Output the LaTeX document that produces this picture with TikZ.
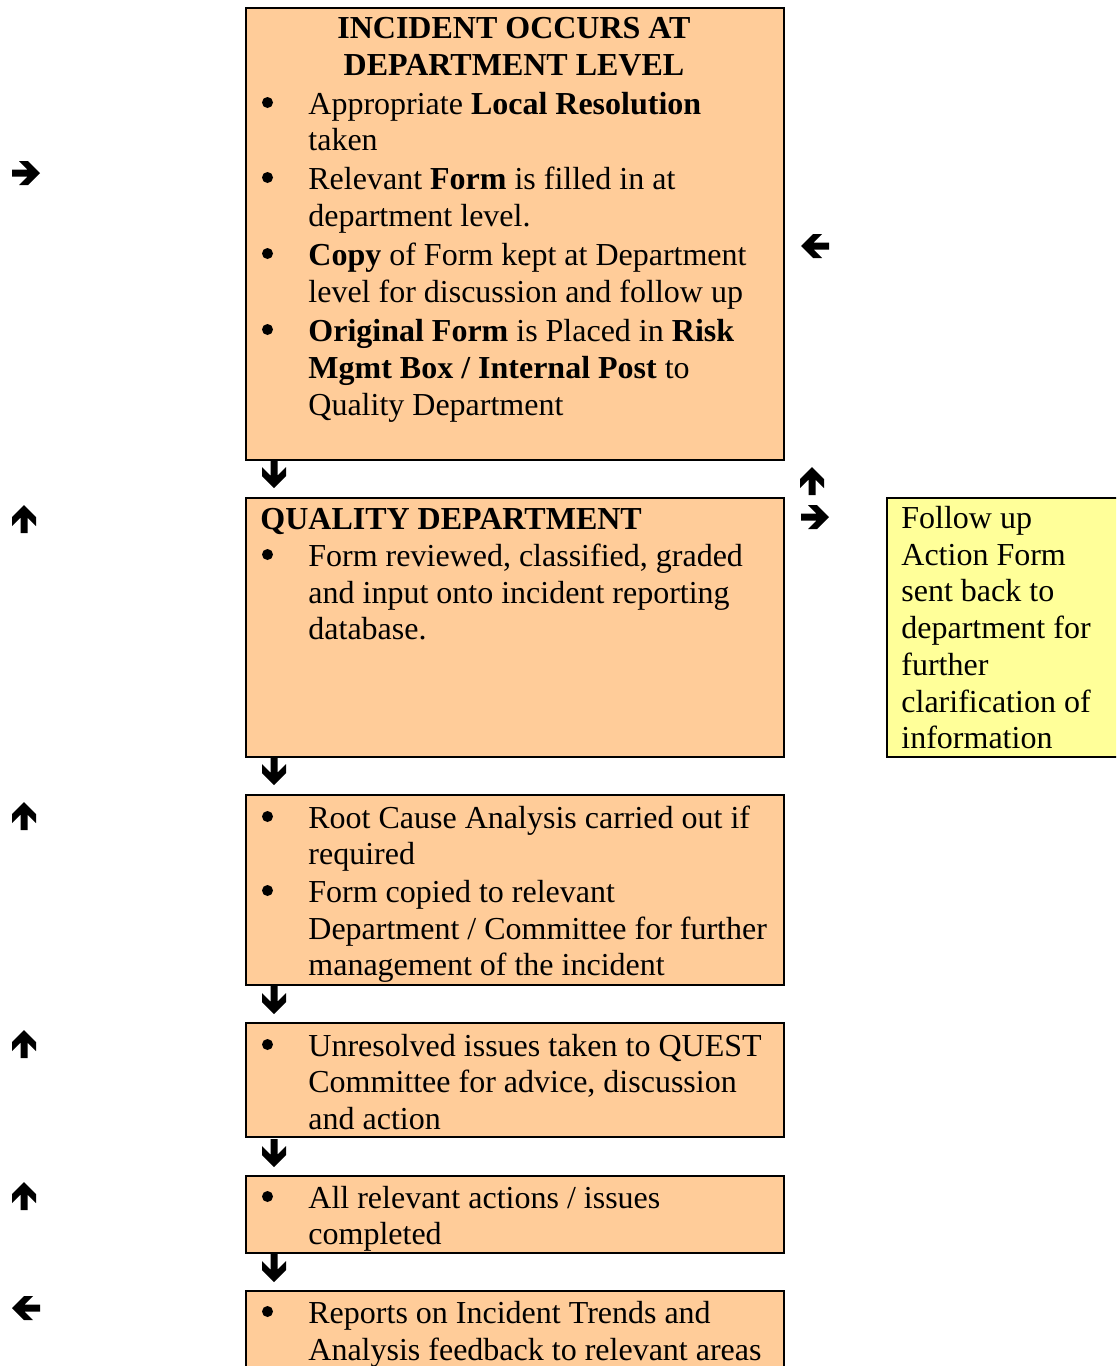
\documentclass[tikz,border=0pt]{standalone}
\usepackage{fontspec}
\setmainfont{Liberation Serif}
\definecolor{peach}{RGB}{255,204,153}
\definecolor{paleyellow}{RGB}{255,255,153}
\newcommand\boxnode[6]{\node[#2, minimum width=(#5-#3)*0.5pt, minimum height=(#6-#4)*0.5pt] (#1) at (#3,#4) {};}
\newcommand\tline[4]{\node[txt] (#1) at (#2,#3) {#4};}
\newcommand\bul[3]{\node[bulletdot] (#1) at (267.5,#2-11.5) {};\tline{#1t}{308}{#2}{#3}}
\newcommand\wingarrow[4]{%
  \coordinate (#1) at (#2,#3);
  \begin{scope}[shift={(#1)}, rotate=#4]
    \fill (14,0) -- (2,-12) -- (-7,-12) -- (1.5,-3.5) -- (-14,-3.5) -- (-14,3.5) -- (1.5,3.5) -- (-7,12) -- (2,12) -- cycle;
  \end{scope}}
\begin{document}
\begin{tikzpicture}[x=0.5pt,y=-0.5pt,
  pbox/.style={draw, line width=1pt, fill=peach, anchor=north west, inner sep=0pt, outer sep=0pt},
  ybox/.style={draw, line width=1pt, fill=paleyellow, anchor=north west, inner sep=0pt, outer sep=0pt},
  txt/.style={anchor=base west, inner sep=0pt, font=\fontsize{16}{18.5}\selectfont},
  ttl/.style={anchor=base, inner sep=0pt, font=\fontsize{16}{18.5}\selectfont\bfseries},
  bulletdot/.style={circle, fill=black, inner sep=0pt, minimum size=5.5pt}]
\useasboundingbox (0,0) rectangle (1116,1366);
\clip (0,0) rectangle (1116,1366);
% boxes
\boxnode{b1}{pbox}{246}{8}{784}{460}
\boxnode{b2}{pbox}{246}{498}{784}{757}
\boxnode{b3}{pbox}{246}{795}{784}{985}
\boxnode{b4}{pbox}{246}{1023}{784}{1137}
\boxnode{b5}{pbox}{246}{1176}{784}{1253}
\boxnode{b6}{pbox}{246}{1291}{784}{1390}
\boxnode{fb}{ybox}{887}{498}{1130}{757}
% box 1
\node[ttl] (t1a) at (514,38) {INCIDENT OCCURS AT};
\node[ttl] (t1b) at (514,75) {DEPARTMENT LEVEL};
\bul{p1}{114}{Appropriate \textbf{Local Resolution}}
\tline{p1b}{308}{150}{taken}
\bul{p2}{189}{Relevant \textbf{Form} is filled in at}
\tline{p2b}{308}{226}{department level.}
\bul{p3}{265}{\textbf{Copy} of Form kept at Department}
\tline{p3b}{308}{302}{level for discussion and follow up}
\bul{p4}{341}{\textbf{Original Form} is Placed in \textbf{Risk}}
\tline{p4b}{308}{378}{\textbf{Mgmt Box / Internal Post} to}
\tline{p4c}{308}{415}{Quality Department}
% box 2
\tline{t2}{260}{529}{\textbf{QUALITY DEPARTMENT}}
\bul{q1}{566}{Form reviewed, classified, graded}
\tline{q1b}{308}{603}{and input onto incident reporting}
\tline{q1c}{308}{639}{database.}
% box 3
\bul{r1}{828}{Root Cause Analysis carried out if}
\tline{r1b}{308}{864}{required}
\bul{r2}{902}{Form copied to relevant}
\tline{r2b}{308}{939}{Department / Committee for further}
\tline{r2c}{308}{975}{management of the incident}
% box 4
\bul{s1}{1056}{Unresolved issues taken to QUEST}
\tline{s1b}{308}{1092}{Committee for advice, discussion}
\tline{s1c}{308}{1129}{and action}
% box 5
\bul{u1}{1208}{All relevant actions / issues}
\tline{u1b}{308}{1244}{completed}
% box 6
\bul{v1}{1323}{Reports on Incident Trends and}
\tline{v1b}{308}{1360}{Analysis feedback to relevant areas}
% follow-up box
\tline{f1}{901}{528}{Follow up}
\tline{f2}{901}{565}{Action Form}
\tline{f3}{901}{601}{sent back to}
\tline{f4}{901}{638}{department for}
\tline{f5}{901}{675}{further}
\tline{f6}{901}{712}{clarification of}
\tline{f7}{901}{748}{information}
% arrows
\wingarrow{aR1}{26}{173}{0}
\wingarrow{aL1}{815}{246}{180}
\wingarrow{aU0}{812}{481}{90}
\wingarrow{aR2}{815}{517}{0}
\wingarrow{aD1}{274}{474}{-90}
\wingarrow{aD2}{274}{771}{-90}
\wingarrow{aD3}{274}{1000}{-90}
\wingarrow{aD4}{274}{1153}{-90}
\wingarrow{aD5}{274}{1268}{-90}
\wingarrow{aU1}{24}{519}{90}
\wingarrow{aU2}{24}{816}{90}
\wingarrow{aU3}{24}{1044}{90}
\wingarrow{aU4}{24}{1196}{90}
\wingarrow{aL2}{26}{1308}{180}
\end{tikzpicture}
\end{document}
